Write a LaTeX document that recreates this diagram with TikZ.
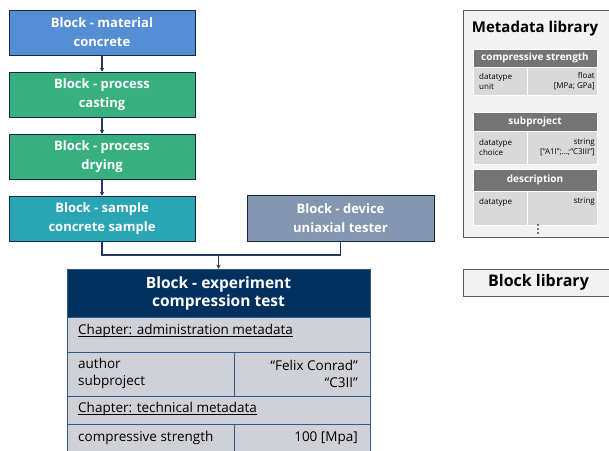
\documentclass[tikz,border=0pt]{standalone}
\usepackage{fontspec}
\setmainfont{Open Sans}
\usetikzlibrary{arrows.meta}
\definecolor{matblue}{HTML}{558ED5}
\definecolor{procgreen}{HTML}{38AF7E}
\definecolor{sampleteal}{HTML}{2AA5B5}
\definecolor{deviceslate}{HTML}{8497B0}
\definecolor{expnavy}{HTML}{00305E}
\definecolor{expgray}{HTML}{D0D1D6}
\definecolor{expline}{HTML}{2E5A8C}
\definecolor{linknavy}{HTML}{1F3864}
\definecolor{libgray}{HTML}{747474}
\definecolor{libcell}{HTML}{D9D9D9}
\definecolor{libframe}{HTML}{595959}
\definecolor{libfill}{HTML}{F2F2F2}

\begin{document}
\begin{tikzpicture}[x=1pt,y=-1pt,
    block/.style={draw=linknavy!70!black, line width=0.7pt, minimum width=186pt,
      minimum height=45pt, inner sep=0pt, text=white, align=center,
      font=\fontsize{13}{19}\selectfont\bfseries},
    link/.style={draw=linknavy, line width=1.1pt},
    linkarrow/.style={link, -{Stealth[length=4pt,width=4.5pt]}},
    exprow/.style={draw=expline, line width=0.7pt, fill=expgray},
    exptext/.style={inner sep=0pt, font=\fontsize{13.5}{17}\selectfont},
    chapline/.style={line width=0.6pt},
    libhead/.style={fill=libgray, draw=white, line width=0.8pt},
    libcellst/.style={fill=libcell, draw=white, line width=0.8pt},
    libtext/.style={inner sep=0pt, font=\fontsize{8}{10}\selectfont},
    libtitle/.style={text=white, inner sep=0pt, font=\fontsize{10}{12}\selectfont\bfseries}]
  \clip (0,0) rectangle (609,450);

  % process chain
  \node[block, fill=matblue] (material) at (102,32.5) {Block - material\\concrete};
  \node[block, fill=procgreen] (casting) at (102,94.5) {Block - process\\casting};
  \node[block, fill=procgreen] (drying) at (102,156.5) {Block - process\\drying};
  \node[block, fill=sampleteal] (sample) at (102,218.5) {Block - sample\\concrete sample};
  \node[block, fill=deviceslate, minimum width=187pt, minimum height=46pt] (device) at (340.5,218) {Block - device\\uniaxial tester};

  \draw[linkarrow] (material) -- (casting);
  \draw[linkarrow] (casting) -- (drying);
  \draw[linkarrow] (drying) -- (sample);

  % experiment block
  \node[block, fill=expnavy, draw=expline, minimum width=303pt, minimum height=48pt,
    font=\fontsize{15.5}{18}\selectfont\bfseries] (exp) at (218.5,293) {Block - experiment\\compression test};
  \coordinate (join) at (218.5,255);
  \draw[link] (sample.south) |- (join);
  \draw[link] (device.south) |- (join);
  \draw[linkarrow] (join) -- (exp.north);

  \draw[exprow] (67,317) rectangle (370,352);
  \draw[exprow] (67,352) rectangle (370,396);
  \draw[exprow] (67,396) rectangle (370,424);
  \draw[exprow] (67,424) rectangle (370,460);
  \draw[expline, line width=0.7pt] (234,352) -- (234,396) (234,424) -- (234,460);
  \node[exptext, anchor=west] (chapadmin) at (78,331) {Chapter: administration metadata};
  \draw[chapline] ([yshift=-2pt]chapadmin.base west) -- ([yshift=-2pt]chapadmin.base east);
  \node[exptext, anchor=west, align=left] (adminkeys) at (78,373.5) {author\\subproject};
  \node[exptext, anchor=east, align=right] (adminvals) at (358,373.5) {“Felix Conrad”\\“C3II”};
  \node[exptext, anchor=west] (chaptech) at (78,408.5) {Chapter: technical metadata};
  \draw[chapline] ([yshift=-2pt]chaptech.base west) -- ([yshift=-2pt]chaptech.base east);
  \node[exptext, anchor=west] (strengthkey) at (78,438) {compressive strength};
  \node[exptext, anchor=east] (strengthval) at (358,438) {100 [Mpa]};

  % metadata library
  \draw[draw=libframe, fill=libfill, line width=1pt] (463,10) rectangle (614,237);
  \node[inner sep=0pt, font=\fontsize{15}{18}\selectfont\bfseries] (libname) at (535,29) {Metadata library};

  \draw[libhead] (473,49) rectangle (597,67);
  \node[libtitle] (cstitle) at (535,58) {compressive strength};
  \draw[libcellst] (473,67) rectangle (527,95) (527,67) rectangle (597,95);
  \node[libtext, anchor=west, align=left] (cskeys) at (479,81) {datatype\\unit};
  \node[libtext, anchor=east, align=right] (csvals) at (595,81) {float\\{[MPa; GPa]}};

  \draw[libhead] (473,112) rectangle (597,131);
  \node[libtitle] (sptitle) at (535,121.5) {subproject};
  \draw[libcellst] (473,131) rectangle (527,164) (527,131) rectangle (597,164);
  \node[libtext, anchor=west, align=left] (spkeys) at (479,147) {datatype\\choice};
  \node[libtext, anchor=east, align=right] (spvals) at (595,147) {string\\{[“A1I”;…;“C3III”]}};

  \draw[libhead] (473,169) rectangle (597,191);
  \node[libtitle] (dstitle) at (535,180) {description};
  \draw[libcellst] (473,191) rectangle (527,225) (527,191) rectangle (597,225);
  \node[libtext, anchor=west] (dskeys) at (479,202) {datatype};
  \node[libtext, anchor=east] (dsvals) at (595,202) {string};
  \foreach \dy in {-4,0,4}
    \fill (538,229+\dy) circle (0.9pt);

  % block library
  \node[draw=libframe, fill=libfill, line width=1pt, minimum width=151pt, minimum height=27pt,
    inner sep=0pt, font=\fontsize{16}{19}\selectfont\bfseries] (blocklib) at (538.5,282.5) {Block library};
\end{tikzpicture}
\end{document}
